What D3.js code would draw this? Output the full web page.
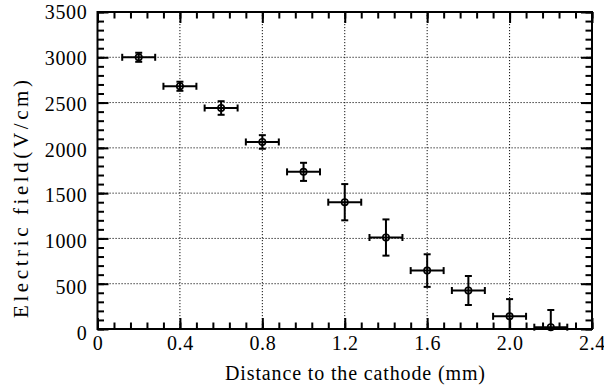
<!DOCTYPE html>
<html>
<head>
<meta charset="utf-8">
<script src="https://cdn.jsdelivr.net/npm/d3@7"></script>
<style>
  body { margin: 0; background: #fff; }
  text { font-family: "Liberation Serif", "Times New Roman", serif; fill: #000; }
</style>
</head>
<body>
<div id="chart"></div>
<script>
// distance from cathode (mm) and measured field (V/cm)
var distance = [0.2, 0.4, 0.6, 0.8, 1.0, 1.2, 1.4, 1.6, 1.8, 2.0, 2.2];
var distErr = [0.08, 0.08, 0.08, 0.08, 0.08, 0.08, 0.08, 0.08, 0.08, 0.08, 0.08];
var field = [3000, 2680, 2440, 2065, 1735, 1400, 1010, 645, 425, 140, 20];
var fieldErr = [50, 50, 75, 75, 100, 200, 200, 180, 160, 190, 190];

var xTicks = [0, 0.4, 0.8, 1.2, 1.6, 2.0, 2.4];
var xTickLabels = ["0", "0.4", "0.8", "1.2", "1.6", "2.0", "2.4"];
var yTicks = [0, 500, 1000, 1500, 2000, 2500, 3000, 3500];

var width = 604,
    height = 388;

// plot box
var pLeft = 97.5, pRight = 592, pTop = 12, pBottom = 329;

var x = d3.scaleLinear().domain([0, 2.4]).range([pLeft, pRight]);
var y = d3.scaleLinear().domain([0, 3500]).range([pBottom, pTop]);
// the y tick labels sit on a slightly stretched scale in the original
var yLab = d3.scaleLinear().domain([0, 3500]).range([333.5, 11.7]);

var svg = d3.select("#chart")
    .append("svg")
    .attr("width", width)
    .attr("height", height);

var xMinor = d3.range(0, 2.4001, 0.08);
var yMinor = d3.range(0, 3501, 100);

// dotted grid
var grid = svg.append("g").attr("class", "grid");
grid.selectAll(".vgrid")
    .data(xTicks.slice(1, -1))
    .enter()
    .append("line")
    .attr("x1", d => x(d)).attr("x2", d => x(d))
    .attr("y1", pTop).attr("y2", pBottom)
    .style("stroke", "#111")
    .style("stroke-width", 1)
    .style("stroke-dasharray", "1.2,1.8");
grid.selectAll(".hgrid")
    .data(yTicks.slice(1, -1))
    .enter()
    .append("line")
    .attr("x1", pLeft).attr("x2", pRight)
    .attr("y1", d => y(d)).attr("y2", d => y(d))
    .style("stroke", "#111")
    .style("stroke-width", 1)
    .style("stroke-dasharray", "1.2,1.8");

function styleAxis(g) {
    g.select(".domain").remove();
    g.selectAll(".tick line").style("stroke", "#000").style("stroke-width", 2);
}

// minor ticks on all four sides
svg.append("g").attr("transform", "translate(0," + pBottom + ")")
    .call(d3.axisBottom(x).tickValues(xMinor).tickSize(-6.5).tickFormat(""))
    .call(styleAxis);
svg.append("g").attr("transform", "translate(0," + pTop + ")")
    .call(d3.axisTop(x).tickValues(xMinor).tickSize(-6.5).tickFormat(""))
    .call(styleAxis);
svg.append("g").attr("transform", "translate(" + pLeft + ",0)")
    .call(d3.axisLeft(y).tickValues(yMinor).tickSize(-6.5).tickFormat(""))
    .call(styleAxis);
svg.append("g").attr("transform", "translate(" + pRight + ",0)")
    .call(d3.axisRight(y).tickValues(yMinor).tickSize(-6.5).tickFormat(""))
    .call(styleAxis);

// major ticks + labels
var xAxis = svg.append("g").attr("transform", "translate(0," + pBottom + ")")
    .call(d3.axisBottom(x).tickValues(xTicks).tickSize(-11).tickPadding(7)
        .tickFormat((d, i) => xTickLabels[i]))
    .call(styleAxis);
xAxis.selectAll("text")
    .style("font-size", "20px")
    .style("font-family", "'Liberation Serif', serif")
    .style("letter-spacing", "0.6px");

svg.append("g").attr("transform", "translate(0," + pTop + ")")
    .call(d3.axisTop(x).tickValues(xTicks).tickSize(-11).tickFormat(""))
    .call(styleAxis);

var yAxis = svg.append("g").attr("transform", "translate(" + pLeft + ",0)")
    .call(d3.axisLeft(y).tickValues(yTicks).tickSize(-11).tickPadding(10)
        .tickFormat(d3.format("d")))
    .call(styleAxis);
yAxis.selectAll("text")
    .style("font-size", "20px")
    .style("font-family", "'Liberation Serif', serif")
    .style("letter-spacing", "0.7px")
    .attr("y", d => yLab(d) - y(d));

svg.append("g").attr("transform", "translate(" + pRight + ",0)")
    .call(d3.axisRight(y).tickValues(yTicks).tickSize(-11).tickFormat(""))
    .call(styleAxis);

// frame
svg.append("rect")
    .attr("x", pLeft).attr("y", pTop)
    .attr("width", pRight - pLeft).attr("height", pBottom - pTop)
    .style("fill", "none")
    .style("stroke", "#000")
    .style("stroke-width", 2);

// axis titles
svg.append("text")
    .attr("x", 355).attr("y", 380)
    .attr("text-anchor", "middle")
    .attr("textLength", 260)
    .attr("lengthAdjust", "spacing")
    .style("font-family", "'Liberation Serif', serif")
    .style("font-size", "20px")
    .text("Distance to the cathode (mm)");

svg.append("text")
    .attr("transform", "translate(28,199) rotate(-90)")
    .attr("text-anchor", "middle")
    .attr("textLength", 238)
    .attr("lengthAdjust", "spacing")
    .style("font-family", "'Liberation Serif', serif")
    .style("font-size", "21px")
    .text("Electric field(V/cm)");

// error bars and markers
var points = distance.map(function(d, i) {
    return { x: d, xe: distErr[i], y: field[i], ye: fieldErr[i] };
});

var pts = svg.append("g")
    .attr("class", "points")
    .selectAll(".pt")
    .data(points)
    .enter()
    .append("g")
    .attr("class", "pt")
    .style("stroke", "#000")
    .style("stroke-width", 2)
    .style("fill", "none");

var cap = 3.5;

// horizontal bars
pts.append("line")
    .attr("x1", d => x(d.x - d.xe)).attr("x2", d => x(d.x + d.xe))
    .attr("y1", d => y(d.y)).attr("y2", d => y(d.y));
pts.append("line")
    .attr("x1", d => x(d.x - d.xe)).attr("x2", d => x(d.x - d.xe))
    .attr("y1", d => y(d.y) - cap).attr("y2", d => y(d.y) + cap);
pts.append("line")
    .attr("x1", d => x(d.x + d.xe)).attr("x2", d => x(d.x + d.xe))
    .attr("y1", d => y(d.y) - cap).attr("y2", d => y(d.y) + cap);

// vertical bars (cut at the x axis)
pts.append("line")
    .attr("x1", d => x(d.x)).attr("x2", d => x(d.x))
    .attr("y1", d => y(d.y + d.ye)).attr("y2", d => y(Math.max(0, d.y - d.ye)));
pts.append("line")
    .attr("x1", d => x(d.x) - cap).attr("x2", d => x(d.x) + cap)
    .attr("y1", d => y(d.y + d.ye)).attr("y2", d => y(d.y + d.ye));
pts.filter(d => d.y - d.ye > 0)
    .append("line")
    .attr("x1", d => x(d.x) - cap).attr("x2", d => x(d.x) + cap)
    .attr("y1", d => y(d.y - d.ye)).attr("y2", d => y(d.y - d.ye));

pts.append("circle")
    .attr("cx", d => x(d.x))
    .attr("cy", d => y(d.y))
    .attr("r", 3.2)
    .style("stroke-width", 1.6);
</script>
</body>
</html>
